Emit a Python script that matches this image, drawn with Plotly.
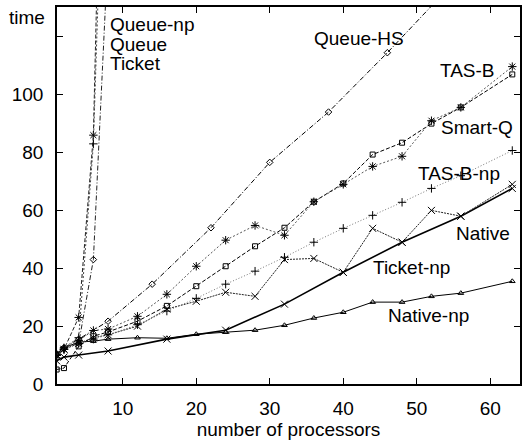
import plotly.graph_objects as go

# ---- data ----
x_std = [1, 2, 4, 6, 8, 12, 16, 20, 24, 28, 32, 36, 40, 44, 48, 52, 56, 63]
x_sparse = [1, 2, 4, 8, 16, 24, 32, 40, 48, 56, 63]
x_hs = [1, 2, 4, 8, 14, 22, 30, 38, 46, 54]
x_fast = [1, 2, 4, 6, 8]

queue_np = [10, 12.5, 16, 83, 240]
queue = [10, 12.5, 14, 43, 150]
ticket = [10, 12, 23, 86, 300]
queue_hs = [10.5, 12.5, 15.5, 21.7, 34.5, 54, 76.6, 94, 114.5, 136]
tas_b = [10, 12, 15, 18.5, 19, 23.4, 31, 40.7, 49.7, 54.8, 51.4, 63, 69, 75.2, 78.7, 91, 95.6, 109.7]
smart_q = [5, 5.5, 13, 16.5, 18, 21.7, 27, 33.8, 40.7, 47.6, 54, 63, 69.3, 79.3, 83.4, 90, 95.6, 107]
tas_b_np = [10, 12, 14, 15.5, 17, 20.5, 25.2, 29.6, 34.5, 39, 43.8, 49, 53.8, 58.3, 62.8, 67.6, 72, 80.7]
ticket_np = [10, 12, 14, 16, 17, 20, 25.9, 28.6, 31.7, 30.3, 43, 43.4, 38.6, 53.8, 49, 60, 58, 69]
native = [8, 9.3, 10, 11.4, 15.5, 18.6, 27.6, 38.6, 49, 58, 67.6]
native_np = [10.5, 12.5, 14.5, 14.8, 15.5, 16, 15.8, 17.2, 17.9, 18.6, 20.3, 22.8, 24.8, 28.3, 28.3, 30.3, 31.4, 35.5]

y_ticks = [0, 20, 40, 60, 80, 100, 120]
y_ticktext = ["0", "20", "40", "60", "80", "100", ""]
x_ticks = [10, 20, 30, 40, 50, 60]

labels = [
    ("Queue-np", 108, 24), ("Queue", 108, 44), ("Ticket", 108, 63),
    ("Queue-HS", 313, 38), ("TAS-B", 440, 71), ("Smart-Q", 441, 128),
    ("TAS-B-np", 418, 173), ("Native", 456, 233), ("Ticket-np", 372, 267),
    ("Native-np", 387, 315),
]

FONT = "Liberation Sans, Arial, Helvetica, sans-serif"

fig = go.Figure()

def add(name, xs, ys, symbol, dash, color, width=1.0, size=6):
    fig.add_trace(go.Scatter(
        x=xs, y=ys, name=name, mode="lines+markers",
        line=dict(color=color, width=width, dash=dash),
        marker=dict(symbol=symbol, size=size, color="black",
                    line=dict(color="black", width=1)),
        showlegend=False,
    ))

add("Native-np", x_std, native_np, "triangle-up-open", "solid", "black", 1.0, 5)
add("Native", x_sparse, native, "x-thin-open", "solid", "black", 1.6, 7)
add("Ticket-np", x_std, ticket_np, "x-thin-open", "2px,1px", "#222", 1.0, 7)
add("TAS-B-np", x_std, tas_b_np, "cross-thin-open", "1px,2px", "#777", 1.0, 6)
add("Smart-Q", x_std, smart_q, "square-open", "4px,2px", "black", 1.0, 5)
add("TAS-B", x_std, tas_b, "asterisk-open", "2px,2px", "#555", 1.0, 7)
add("Queue-HS", x_hs, queue_hs, "diamond-open", "5px,2px,1px,2px", "black", 1.0, 5)
add("Ticket", x_fast, ticket, "asterisk-open", "4px,2px", "#222", 1.0, 7)
add("Queue", x_fast, queue, "diamond-open", "5px,2px,1px,2px", "#222", 1.0, 5)
add("Queue-np", x_fast, queue_np, "cross-thin-open", "2px,2px", "#444", 1.0, 6)

L, R, T, B = 57, 4, 7, 56
W, H = 526, 440
pw, ph = W - L - R, H - T - B

for text, px, py in labels:
    fig.add_annotation(
        text=text, xref="paper", yref="paper",
        x=(px - L) / pw, y=1 - (py - T) / ph,
        xanchor="left", yanchor="middle", showarrow=False,
        font=dict(size=19, color="black", family=FONT),
    )

fig.add_annotation(
    text="time", xref="paper", yref="paper",
    x=(47 - L) / pw, y=1 - (18 - T) / ph,
    xanchor="right", yanchor="middle", showarrow=False,
    font=dict(size=19, color="black", family=FONT),
)

fig.update_layout(
    width=W, height=H,
    margin=dict(l=L, r=R, t=T, b=B),
    paper_bgcolor="white", plot_bgcolor="white",
    font=dict(family=FONT, size=19, color="black"),
    xaxis=dict(
        range=[1.05, 64.05], tickvals=x_ticks, ticks="inside", ticklen=6,
        tickwidth=1.2, tickcolor="black", showline=True, linecolor="black",
        linewidth=1.5, mirror="ticks", showgrid=False, zeroline=False,
        title=dict(text="number of processors", standoff=0,
                   font=dict(size=19, family=FONT)),
        tickfont=dict(size=19, family=FONT), ticklabelstandoff=6,
    ),
    yaxis=dict(
        range=[0, 130.3], tickvals=y_ticks, ticktext=y_ticktext,
        ticks="inside", ticklen=6, tickwidth=1.2, tickcolor="black",
        showline=True, linecolor="black", linewidth=1.5, mirror="ticks",
        showgrid=False, zeroline=False,
        tickfont=dict(size=19, family=FONT), ticklabelstandoff=8,
    ),
)

fig.write_html("out.html", config={"displayModeBar": False},
               post_script="document.body.style.margin='0px';")
